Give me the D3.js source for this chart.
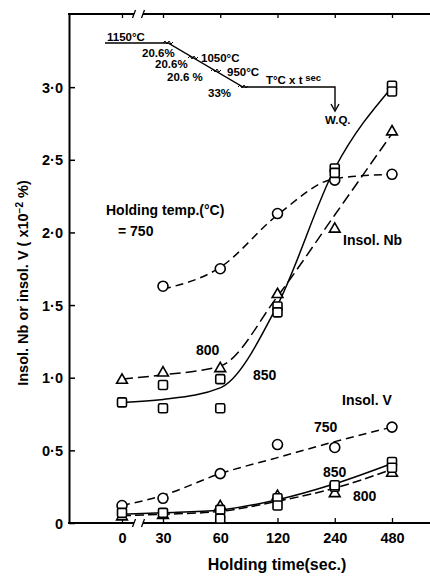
<!DOCTYPE html>
<html>
<head>
<meta charset="utf-8">
<script src="https://cdn.jsdelivr.net/npm/d3@7"></script>
<style>
  body { margin: 0; background: #fff; }
  text { font-family: "Liberation Sans", Arial, sans-serif; font-weight: bold; fill: #000; }
</style>
</head>
<body>
<script>
// holding time categories (axis is log2 after 30 s, 0 is put before a break)
var times = ['0', '30', '60', '120', '240', '480'];
var yTicks = [0, 0.5, 1.0, 1.5, 2.0, 2.5, 3.0];

// insol. Nb, measured points (null = no point)
var nb750 = [null, 1.63, 1.75, 2.13, 2.36, 2.40];
var nb800 = [0.99, 1.04, 1.07, 1.58, 2.03, 2.70];
var nb850a = [0.83, 0.95, 0.99, 1.49, 2.44, 3.01];
var nb850b = [null, 0.79, 0.79, 1.45, 2.41, 2.97];
// hand drawn curves for Nb
var nb750Fit = [null, 1.61, 1.76, 2.12, 2.37, 2.40];
var nb800Fit = [0.99, 1.02, 1.08, 1.56, 2.12, 2.68];
var nb850Fit = [0.83, 0.85, 0.93, 1.50, 2.44, 3.00];

// insol. V, measured points
var v750 = [0.12, 0.17, 0.34, 0.54, 0.52, 0.66];
var v800 = [0.05, 0.06, 0.12, 0.19, 0.21, 0.35];
var v850a = [0.07, 0.07, 0.09, 0.17, 0.25, 0.42];
var v850b = [null, null, 0.03, 0.12, 0.26, 0.38];
// hand drawn curves for V
var v750Fit = [0.12, 0.19, 0.34, 0.45, 0.56, 0.66];
var v800Fit = [0.05, 0.06, 0.08, 0.15, 0.24, 0.37];
var v850Fit = [0.06, 0.07, 0.09, 0.16, 0.27, 0.41];

var W = 430, H = 576;
var svg = d3.select('body').append('svg')
            .attr('width', W).attr('height', H);
svg.append('rect').attr('width', W).attr('height', H).attr('fill', '#fff');

var x = d3.scaleLinear().domain([0, 1, 5]).range([122, 163, 392]);
var y = d3.scaleLinear().domain([0, 3.5]).range([523, 14.5]);
var x0 = 69, yTop = 14, yBot = 523;

// left axis, ticks pointing inward
var fmt = function (d) { return d === 0 ? '0' : d.toFixed(1).replace('.', '·'); };
var gy = svg.append('g').attr('transform', 'translate(' + x0 + ',0)')
  .call(d3.axisLeft(y).tickValues(yTicks).tickSizeInner(-6).tickSizeOuter(0).tickPadding(6).tickFormat(fmt));
gy.select('.domain').attr('stroke-width', 2);
gy.selectAll('line').attr('stroke-width', 1.5);
gy.selectAll('text').style('font-size', '14.5px').attr('dy', '0.35em').style('font-family', '"Liberation Sans", Arial, sans-serif');

// bottom axis
var gx = svg.append('g').attr('transform', 'translate(0,' + yBot + ')')
  .call(d3.axisBottom(x).tickValues(d3.range(times.length)).tickSizeInner(-5).tickSizeOuter(0).tickPadding(10)
    .tickFormat(function (i) { return times[i]; }));
gx.select('.domain').remove();
gx.selectAll('line').attr('stroke-width', 1.3);
gx.selectAll('text').style('font-size', '14.5px').style('font-family', '"Liberation Sans", Arial, sans-serif');

// top axis (no labels)
var gt = svg.append('g').attr('transform', 'translate(0,' + yTop + ')')
  .call(d3.axisTop(x).tickValues(d3.range(times.length)).tickSizeInner(-4).tickSizeOuter(0).tickFormat(''));
gt.select('.domain').remove();
gt.selectAll('line').attr('stroke-width', 1.3);

// frame lines with a break between 0 and 30
var brk = [134, 143];
[yTop, yBot].forEach(function (yy) {
  svg.append('line').attr('x1', x0 - 1).attr('x2', brk[0]).attr('y1', yy).attr('y2', yy)
     .attr('stroke', '#000').attr('stroke-width', 2);
  svg.append('line').attr('x1', brk[1]).attr('x2', W).attr('y1', yy).attr('y2', yy)
     .attr('stroke', '#000').attr('stroke-width', 2);
  brk.forEach(function (bx) {
    svg.append('line').attr('x1', bx - 1.5).attr('x2', bx + 1.5).attr('y1', yy + 4).attr('y2', yy - 4)
       .attr('stroke', '#000').attr('stroke-width', 1.3);
  });
});

// axis titles
svg.append('text').attr('transform', 'translate(28,283) rotate(-90)')
   .attr('text-anchor', 'middle').style('font-size', '14.5px')
   .text('Insol. Nb or insol. V ( x10')
   .append('tspan').attr('dy', -5).style('font-size', '10px').text('−2')
   .select(function () { return this.parentNode; })
   .append('tspan').attr('dy', 5).text(' %)');
svg.append('text').attr('x', 277).attr('y', 570).attr('text-anchor', 'middle')
   .style('font-size', '16px').text('Holding time(sec.)');

// curves
var line = d3.line()
  .defined(function (d) { return d != null; })
  .x(function (d, i) { return x(i); })
  .y(function (d) { return y(d); })
  .curve(d3.curveMonotoneX);
var curves = [
  [nb750Fit, '8,5'], [nb800Fit, '11,5'], [nb850Fit, null],
  [v750Fit, '8,5'], [v800Fit, '9,4'], [v850Fit, null]
];
curves.forEach(function (c) {
  svg.append('path').attr('d', line(c[0])).attr('fill', 'none')
     .attr('stroke', '#000').attr('stroke-width', 1.5)
     .attr('stroke-dasharray', c[1]);
});

// markers
function pts(data) {
  return data.map(function (d, i) { return { i: i, v: d }; }).filter(function (p) { return p.v != null; });
}
function circles(data) {
  svg.append('g').selectAll('circle').data(pts(data)).enter().append('circle')
     .attr('cx', function (p) { return x(p.i); }).attr('cy', function (p) { return y(p.v); })
     .attr('r', 5).attr('fill', '#fff').attr('stroke', '#000').attr('stroke-width', 1.6);
}
function squares(data) {
  svg.append('g').selectAll('rect').data(pts(data)).enter().append('rect')
     .attr('x', function (p) { return x(p.i) - 4.5; }).attr('y', function (p) { return y(p.v) - 4.5; })
     .attr('width', 9).attr('height', 9).attr('rx', 1.5)
     .attr('fill', '#fff').attr('stroke', '#000').attr('stroke-width', 1.6);
}
function triangles(data) {
  var tri = d3.symbol().type(d3.symbolTriangle).size(50);
  svg.append('g').selectAll('path').data(pts(data)).enter().append('path')
     .attr('d', tri)
     .attr('transform', function (p) { return 'translate(' + x(p.i) + ',' + (y(p.v) + 1) + ')'; })
     .attr('fill', '#fff').attr('stroke', '#000').attr('stroke-width', 1.6);
}
circles(nb750); triangles(nb800); squares(nb850a); squares(nb850b);
circles(v750); triangles(v800); squares(v850a); squares(v850b);

// annotations
function label(tx, ty, s, size) {
  return svg.append('text').attr('x', tx).attr('y', ty).style('font-size', (size || 14) + 'px').text(s);
}
label(106, 215, 'Holding temp.(°C)');
label(118, 236, '= 750');
label(343, 245, 'Insol. Nb');
label(196, 355, '800');
label(253, 380, '850');
label(342, 405, 'Insol. V');
label(314, 432, '750');
label(323, 477, '850');
label(353, 501, '800');

// schedule inset
var sched = svg.append('g');
sched.append('path')
  .attr('d', 'M105,43 L168,43 L243,87 L335,87 L335,109')
  .attr('fill', 'none').attr('stroke', '#000').attr('stroke-width', 1.4);
sched.append('path').attr('d', 'M331,104 L335,111 L339,104').attr('fill', 'none')
  .attr('stroke', '#000').attr('stroke-width', 1.4);
[[168, 43], [193, 58], [216, 71], [243, 87]].forEach(function (p) {
  sched.append('path')
    .attr('d', 'M' + (p[0] - 5) + ',' + p[1] + ' l2,-2 l2,3 l2,-3 l2,3 l2,-2')
    .attr('fill', 'none').attr('stroke', '#000').attr('stroke-width', 1);
});
[['1150°C', 107, 41], ['20.6%', 142, 57], ['1050°C', 201, 62], ['20.6%', 155, 68],
 ['950°C', 227, 76], ['20.6 %', 167, 81], ['33%', 208, 97], ['W.Q.', 325, 124]].forEach(function (t) {
  label(t[1], t[2], t[0], 11.5);
});
var tt = label(266, 84, 'T°C x t', 11.5);
tt.append('tspan').attr('dy', -3).style('font-size', '9.5px').text(' sec');
</script>
</body>
</html>
